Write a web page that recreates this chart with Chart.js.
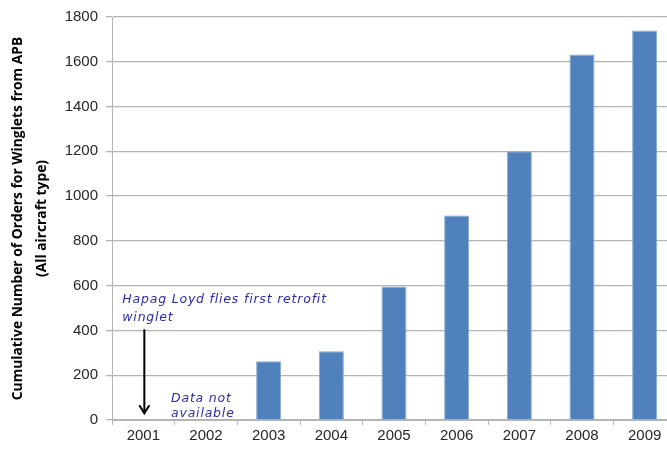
<!DOCTYPE html>
<html>
<head>
<meta charset="utf-8">
<title>Winglet orders</title>
<script src="https://cdn.jsdelivr.net/npm/chart.js@4.4.1/dist/chart.umd.min.js"></script>
<style>
  html, body { margin: 0; padding: 0; background: #fff; overflow: hidden; }
  #wrap { position: relative; width: 680px; height: 450px; }
</style>
</head>
<body>
<div id="wrap"><canvas id="chart"></canvas></div>
<script>
// cumulative winglet orders per year
const years = ['2001', '2002', '2003', '2004', '2005', '2006', '2007', '2008', '2009'];
const orders = [2, 0, 262, 307, 596, 913, 1200, 1632, 1740];
const yTicks = [0, 200, 400, 600, 800, 1000, 1200, 1400, 1600, 1800];

const noteFirst = ['Hapag Loyd flies first retrofit', 'winglet'];
const noteMissing = ['Data not', 'available'];

const ink = '#262626';
const gridGrey = '#b4b4b4';
const noteBlue = '#2c2ca8';
const tickFont = { family: "'Liberation Sans', Arial, sans-serif", size: 15 };

// italic notes and the arrow pointing at 2001
const notesPlugin = {
  id: 'notes',
  afterDatasetsDraw(chart) {
    const { ctx, scales: { x, y } } = chart;
    const x01 = x.getPixelForValue(0);
    const x02 = x.getPixelForValue(1);
    ctx.save();
    ctx.fillStyle = noteBlue;
    ctx.font = "oblique 12.5px 'DejaVu Sans', sans-serif";
    ctx.letterSpacing = '0.8px';
    ctx.textBaseline = 'alphabetic';
    ctx.textAlign = 'left';
    ctx.fillText(noteFirst[0], x01 - 21, y.getPixelForValue(522));
    ctx.fillText(noteFirst[1], x01 - 21, y.getPixelForValue(440));
    ctx.fillText(noteMissing[0], x02 - 35, y.getPixelForValue(82));
    ctx.fillText(noteMissing[1], x02 - 35, y.getPixelForValue(12));

    // arrow
    const ax = x01 + 1;
    const top = y.getPixelForValue(405);
    const tip = y.getPixelForValue(30);
    ctx.strokeStyle = '#000';
    ctx.lineWidth = 2;
    ctx.beginPath();
    ctx.moveTo(ax, top);
    ctx.lineTo(ax, tip - 2);
    ctx.stroke();
    ctx.beginPath();
    ctx.moveTo(ax - 5, tip - 8);
    ctx.lineTo(ax, tip);
    ctx.lineTo(ax + 5, tip - 8);
    ctx.stroke();
    ctx.restore();
  }
};

new Chart(document.getElementById('chart'), {
  type: 'bar',
  data: {
    labels: years,
    datasets: [{
      data: orders,
      backgroundColor: '#4f81bd',
      borderColor: '#88a9d3',
      borderWidth: 1,
      barPercentage: 0.8,
      categoryPercentage: 0.5
    }]
  },
  options: {
    responsive: true,
    maintainAspectRatio: false,
    animation: false,
    layout: { padding: { top: 3, right: 4, bottom: 3, left: 6 } },
    plugins: {
      legend: { display: false },
      tooltip: { enabled: false }
    },
    scales: {
      x: {
        grid: {
          display: true,
          offset: true,
          drawOnChartArea: false,
          drawTicks: true,
          tickLength: 5,
          color: gridGrey
        },
        border: { color: gridGrey, width: 1 },
        ticks: { color: ink, font: tickFont, padding: 2 }
      },
      y: {
        min: 0,
        max: 1800,
        afterBuildTicks: (axis) => { axis.ticks = yTicks.map(v => ({ value: v })); },
        afterFit: (axis) => { axis.width = 106; },
        grid: {
          color: gridGrey,
          lineWidth: 1.3,
          tickLength: 6
        },
        border: { color: gridGrey, width: 1 },
        ticks: {
          color: ink,
          font: tickFont,
          padding: 8,
          callback: (v) => String(v)
        },
        title: {
          display: true,
          text: ['Cumulative Number of Orders for Winglets from APB', '(All aircraft type)'],
          color: '#000',
          font: { family: "'Open Sans', sans-serif", size: 13.8, weight: 'bold', lineHeight: 1.74 },
          padding: { top: 0, bottom: 0 }
        }
      }
    }
  },
  plugins: [notesPlugin]
});
</script>
</body>
</html>
